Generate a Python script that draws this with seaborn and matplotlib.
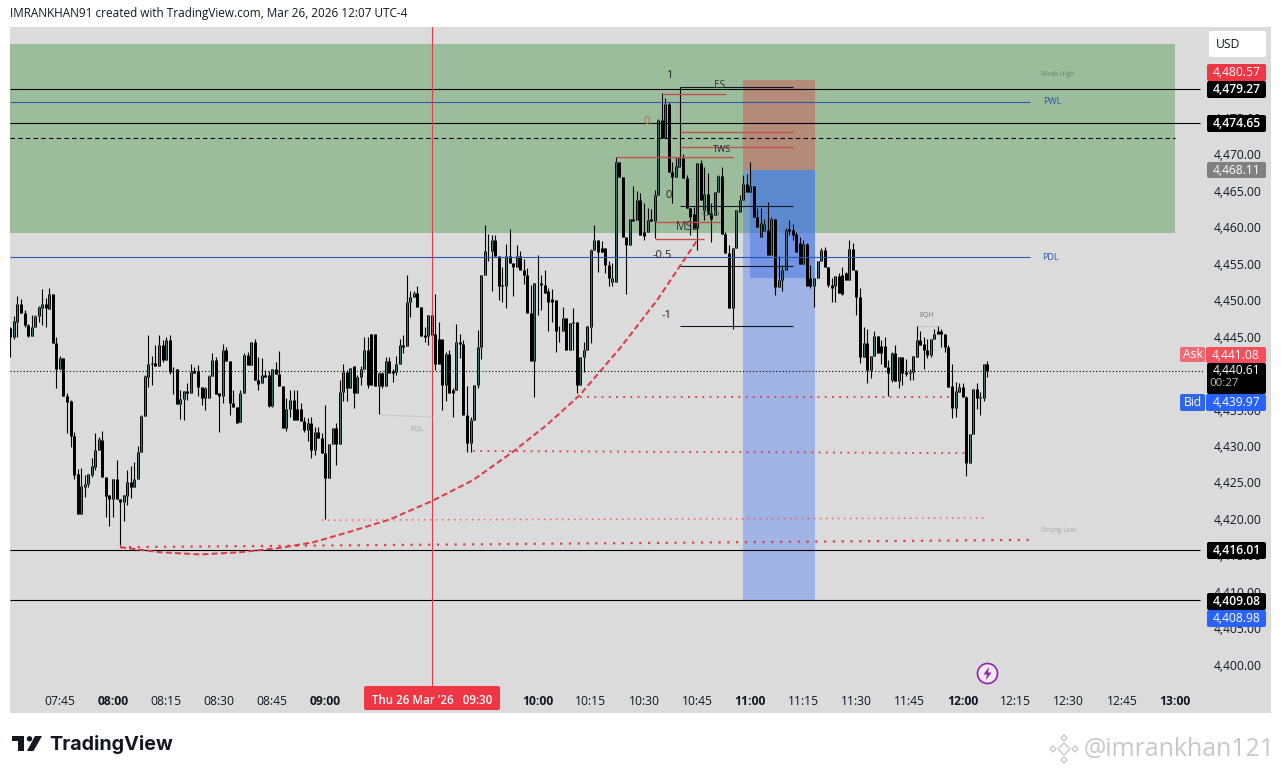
import numpy as np
import pandas as pd
import seaborn as sns
import matplotlib.pyplot as plt
from matplotlib.patches import FancyBboxPatch, Polygon, Circle
from matplotlib.transforms import ScaledTranslation

# 1 minute candles, minutes counted from 08:00
minutes = list(range(-29, 248))

opens = [
    4446.5, 4445.2, 4447.3, 4449.7, 4448.5, 4446.9, 4445.4, 4446.6, 4448.1, 4449.2,
    4449.7, 4449.1, 4451.1, 4444.4, 4440.9, 4442.3, 4437.2, 4436.4, 4431.6, 4426.4,
    4421.0, 4424.7, 4425.0, 4426.3, 4427.4, 4429.8, 4431.1, 4426.0, 4423.5, 4423.0,
    4425.8, 4423.0, 4422.6, 4423.4, 4425.4, 4424.6, 4425.8, 4429.4, 4434.4, 4439.8,
    4441.7, 4441.7, 4441.3, 4444.1, 4442.1, 4444.8, 4440.9, 4440.8, 4436.0, 4436.7,
    4437.8, 4437.6, 4440.6, 4440.6, 4438.4, 4436.8, 4436.8, 4439.9, 4442.1, 4437.5,
    4437.2, 4443.4, 4441.9, 4436.2, 4435.6, 4433.6, 4437.6, 4442.7, 4441.4, 4444.5,
    4439.4, 4438.9, 4440.0, 4440.0, 4435.8, 4440.9, 4440.2, 4438.5, 4432.7, 4435.4,
    4436.6, 4435.3, 4435.3, 4433.7, 4432.5, 4433.4, 4429.8, 4432.2, 4431.4, 4429.3,
    4425.9, 4430.6, 4432.7, 4430.6, 4437.7, 4440.4, 4438.2, 4441.2, 4437.5, 4439.8,
    4440.9, 4443.5, 4445.6, 4445.6, 4438.5, 4440.3, 4438.5, 4441.9, 4440.6, 4440.5,
    4441.5, 4444.1, 4444.0, 4450.0, 4450.7, 4451.3, 4449.3, 4445.5, 4445.4, 4448.3,
    4445.6, 4445.0, 4445.0, 4438.7, 4442.9, 4438.0, 4438.0, 4444.5, 4444.3, 4434.5,
    4430.7, 4433.9, 4438.6, 4443.9, 4453.8, 4457.1, 4457.0, 4458.6, 4456.3, 4452.4,
    4452.2, 4456.4, 4455.4, 4454.9, 4456.3, 4454.4, 4453.8, 4448.6, 4442.0, 4452.7,
    4452.7, 4452.4, 4451.5, 4450.4, 4450.3, 4446.1, 4446.0, 4447.8, 4443.4, 4447.3,
    4447.3, 4438.6, 4442.5, 4443.5, 4446.6, 4457.2, 4458.5, 4457.4, 4457.4, 4455.1,
    4452.8, 4452.8, 4469.3, 4467.2, 4458.9, 4457.9, 4461.5, 4461.3, 4464.1, 4459.7,
    4459.7, 4461.4, 4461.1, 4464.7, 4475.0, 4472.5, 4477.2, 4467.9, 4467.2, 4468.6,
    4469.8, 4467.0, 4462.9, 4462.1, 4460.2, 4469.1, 4462.7, 4464.8, 4462.2, 4462.0,
    4465.1, 4467.3, 4459.4, 4456.7, 4449.2, 4457.4, 4462.4, 4464.0, 4466.3, 4465.1,
    4465.9, 4461.7, 4459.0, 4459.8, 4459.9, 4456.5, 4461.4, 4452.1, 4453.1, 4454.5,
    4460.0, 4459.9, 4459.4, 4458.2, 4455.3, 4458.0, 4453.3, 4452.2, 4453.3, 4455.6,
    4457.2, 4454.9, 4452.4, 4452.2, 4453.6, 4453.7, 4454.0, 4453.1, 4457.3, 4454.5,
    4450.7, 4442.5, 4444.4, 4440.7, 4442.6, 4445.4, 4444.0, 4444.0, 4441.1, 4439.3,
    4443.0, 4439.2, 4442.5, 4440.4, 4440.3, 4440.5, 4442.5, 4444.8, 4444.3, 4443.5,
    4442.8, 4445.0, 4446.0, 4446.0, 4445.7, 4443.8, 4438.5, 4435.5, 4437.7, 4438.4,
    4437.0, 4427.9, 4431.9, 4438.1, 4436.9, 4436.9, 4441.5,
]
closes = [
    4445.2, 4447.5, 4449.7, 4448.5, 4446.9, 4445.4, 4446.6, 4448.1, 4449.3, 4449.7,
    4449.2, 4451.1, 4444.4, 4440.9, 4442.3, 4437.2, 4436.3, 4431.6, 4426.3, 4421.0,
    4424.8, 4425.1, 4426.4, 4427.5, 4429.8, 4431.2, 4426.0, 4423.4, 4423.0, 4425.8,
    4423.0, 4422.6, 4423.5, 4425.4, 4424.6, 4425.8, 4429.4, 4434.4, 4439.9, 4441.6,
    4441.6, 4441.2, 4444.2, 4442.1, 4444.8, 4440.5, 4440.8, 4436.0, 4436.7, 4437.8,
    4437.6, 4440.5, 4440.3, 4438.4, 4436.8, 4438.3, 4439.9, 4442.1, 4437.4, 4437.2,
    4443.4, 4441.9, 4436.2, 4435.6, 4433.5, 4437.6, 4442.7, 4441.4, 4444.5, 4439.4,
    4438.8, 4440.0, 4439.8, 4435.8, 4440.9, 4440.2, 4438.5, 4432.8, 4435.4, 4436.6,
    4433.9, 4433.9, 4433.7, 4432.5, 4433.4, 4429.8, 4432.2, 4431.4, 4429.3, 4425.9,
    4430.6, 4432.7, 4430.6, 4437.7, 4440.4, 4438.2, 4441.0, 4437.5, 4439.8, 4440.9,
    4443.5, 4438.7, 4438.7, 4438.5, 4440.3, 4438.5, 4441.9, 4440.3, 4440.3, 4441.5,
    4444.1, 4443.9, 4450.0, 4450.7, 4451.3, 4449.3, 4445.4, 4445.3, 4448.3, 4445.5,
    4441.5, 4441.5, 4438.7, 4442.9, 4437.6, 4437.6, 4444.5, 4444.3, 4434.5, 4430.7,
    4433.9, 4438.6, 4443.9, 4453.8, 4457.1, 4457.0, 4458.6, 4456.3, 4452.3, 4452.2,
    4456.4, 4455.4, 4454.9, 4456.3, 4454.4, 4453.8, 4448.5, 4442.0, 4452.7, 4452.6,
    4452.4, 4451.3, 4450.1, 4450.1, 4446.0, 4446.0, 4447.8, 4443.4, 4447.2, 4447.1,
    4438.6, 4442.5, 4443.5, 4446.7, 4457.2, 4458.5, 4456.9, 4456.9, 4455.1, 4453.3,
    4453.4, 4469.3, 4467.2, 4458.9, 4457.9, 4461.5, 4461.2, 4464.1, 4459.2, 4459.1,
    4461.3, 4461.1, 4464.7, 4475.0, 4472.5, 4477.2, 4467.9, 4467.2, 4468.7, 4469.8,
    4467.0, 4462.9, 4461.7, 4460.2, 4469.1, 4464.0, 4464.8, 4462.1, 4461.5, 4465.1,
    4467.3, 4459.4, 4456.7, 4449.2, 4457.4, 4462.6, 4464.0, 4466.3, 4465.2, 4465.9,
    4461.7, 4460.4, 4460.9, 4460.8, 4456.5, 4461.4, 4452.1, 4453.1, 4454.5, 4459.9,
    4459.8, 4459.2, 4456.9, 4455.3, 4458.0, 4452.2, 4452.2, 4453.3, 4455.6, 4457.2,
    4454.9, 4452.4, 4452.0, 4453.6, 4451.3, 4451.2, 4453.0, 4457.3, 4454.5, 4450.7,
    4442.5, 4444.4, 4440.7, 4442.6, 4445.4, 4443.1, 4443.1, 4441.1, 4440.3, 4443.0,
    4439.2, 4442.5, 4440.3, 4440.2, 4440.5, 4442.6, 4444.8, 4444.1, 4443.5, 4442.8,
    4445.0, 4445.7, 4445.7, 4445.6, 4443.8, 4438.4, 4435.5, 4437.8, 4438.4, 4437.0,
    4427.9, 4431.9, 4438.1, 4436.9, 4437.0, 4441.5, 4440.61,
]
highs = [
    4446.6, 4448.1, 4450.8, 4450.4, 4448.9, 4447.0, 4448.2, 4448.2, 4449.5, 4451.8,
    4450.6, 4452.0, 4451.1, 4445.2, 4442.6, 4442.3, 4437.5, 4436.6, 4432.2, 4427.1,
    4427.2, 4426.3, 4426.5, 4428.6, 4432.0, 4431.5, 4432.4, 4426.0, 4423.6, 4425.8,
    4428.4, 4423.0, 4423.6, 4427.0, 4427.6, 4428.1, 4430.3, 4434.5, 4440.0, 4445.5,
    4442.6, 4444.1, 4445.5, 4444.8, 4445.2, 4445.5, 4441.1, 4440.8, 4437.9, 4437.8,
    4438.9, 4441.5, 4441.1, 4441.4, 4438.4, 4438.4, 4440.0, 4443.0, 4442.5, 4437.5,
    4444.3, 4443.9, 4441.9, 4437.9, 4435.6, 4437.9, 4443.1, 4443.2, 4444.5, 4445.0,
    4442.5, 4442.3, 4440.7, 4440.6, 4440.9, 4441.8, 4443.3, 4438.5, 4436.8, 4438.0,
    4438.0, 4437.9, 4436.2, 4434.3, 4434.1, 4434.3, 4432.9, 4432.9, 4432.1, 4435.9,
    4430.6, 4432.7, 4433.4, 4439.4, 4441.6, 4440.7, 4441.0, 4441.2, 4440.0, 4441.3,
    4445.3, 4445.3, 4445.6, 4445.6, 4440.5, 4440.5, 4442.5, 4442.5, 4440.9, 4442.6,
    4444.9, 4445.5, 4453.8, 4451.5, 4451.6, 4452.2, 4449.3, 4446.6, 4448.3, 4449.2,
    4451.1, 4447.3, 4445.0, 4443.2, 4443.4, 4438.2, 4447.0, 4445.7, 4444.8, 4438.5,
    4434.3, 4438.7, 4446.2, 4453.8, 4460.6, 4459.4, 4459.2, 4459.2, 4456.3, 4454.9,
    4458.0, 4460.0, 4455.4, 4457.9, 4457.0, 4456.0, 4454.7, 4452.4, 4452.7, 4456.5,
    4453.8, 4454.5, 4451.9, 4451.8, 4450.3, 4446.7, 4449.3, 4447.8, 4447.2, 4449.2,
    4447.3, 4442.5, 4444.6, 4446.8, 4457.3, 4460.6, 4458.5, 4458.4, 4457.4, 4455.6,
    4455.4, 4469.9, 4469.3, 4467.2, 4458.9, 4461.5, 4466.0, 4465.3, 4465.0, 4463.6,
    4463.0, 4462.8, 4465.4, 4475.2, 4478.7, 4478.0, 4477.5, 4469.3, 4470.0, 4469.8,
    4470.4, 4467.5, 4462.9, 4463.1, 4469.1, 4469.5, 4468.6, 4467.7, 4463.6, 4465.1,
    4467.5, 4468.5, 4459.7, 4457.9, 4457.4, 4462.7, 4464.7, 4467.5, 4467.6, 4469.3,
    4465.9, 4463.0, 4462.9, 4461.5, 4463.7, 4461.7, 4461.4, 4456.3, 4455.1, 4460.2,
    4461.3, 4460.8, 4459.7, 4459.0, 4458.5, 4458.2, 4455.1, 4453.4, 4455.6, 4457.4,
    4457.6, 4454.9, 4453.4, 4453.6, 4454.0, 4454.9, 4454.2, 4458.6, 4458.1, 4454.5,
    4451.9, 4446.6, 4446.4, 4442.6, 4446.0, 4445.4, 4444.8, 4445.2, 4442.1, 4443.2,
    4444.1, 4442.5, 4442.5, 4442.2, 4440.9, 4442.6, 4446.8, 4446.0, 4445.3, 4444.9,
    4445.0, 4446.4, 4446.8, 4446.4, 4445.7, 4444.1, 4441.5, 4439.0, 4438.9, 4438.9,
    4437.1, 4431.9, 4438.1, 4438.9, 4437.7, 4441.5, 4442.0,
]
lows = [
    4442.5, 4445.0, 4445.2, 4448.5, 4446.6, 4445.2, 4445.4, 4446.6, 4447.3, 4446.9,
    4446.6, 4449.1, 4444.4, 4438.3, 4440.9, 4437.2, 4432.1, 4430.1, 4425.8, 4421.0,
    4421.0, 4423.3, 4424.6, 4426.0, 4427.0, 4429.8, 4426.0, 4420.6, 4419.3, 4420.6,
    4423.0, 4416.7, 4420.0, 4422.2, 4423.1, 4424.6, 4425.8, 4429.4, 4434.4, 4438.4,
    4438.6, 4441.2, 4441.3, 4441.8, 4442.1, 4440.1, 4437.4, 4436.0, 4434.0, 4433.8,
    4436.6, 4437.6, 4440.3, 4437.1, 4435.9, 4435.2, 4436.8, 4439.9, 4437.4, 4432.2,
    4436.2, 4441.9, 4434.5, 4435.6, 4433.4, 4433.6, 4437.6, 4441.4, 4441.4, 4439.4,
    4438.0, 4438.9, 4439.8, 4435.7, 4435.7, 4440.2, 4438.5, 4432.8, 4432.4, 4434.3,
    4433.9, 4433.9, 4433.7, 4432.2, 4431.0, 4428.6, 4429.0, 4431.4, 4429.3, 4420.3,
    4425.9, 4430.6, 4427.7, 4430.6, 4436.4, 4436.4, 4438.2, 4435.5, 4437.5, 4438.7,
    4440.9, 4438.2, 4438.7, 4438.5, 4434.7, 4438.2, 4438.5, 4440.3, 4439.0, 4440.0,
    4441.5, 4443.1, 4444.0, 4448.0, 4450.7, 4449.3, 4445.4, 4444.5, 4444.1, 4445.5,
    4440.7, 4441.5, 4435.2, 4436.4, 4437.6, 4434.3, 4438.0, 4442.3, 4434.5, 4429.5,
    4429.5, 4433.9, 4438.2, 4442.2, 4453.8, 4455.6, 4451.5, 4456.3, 4450.3, 4450.1,
    4449.2, 4455.4, 4450.8, 4454.9, 4454.4, 4452.5, 4448.5, 4442.0, 4437.0, 4448.3,
    4448.9, 4451.3, 4446.0, 4447.3, 4443.2, 4444.6, 4446.0, 4443.4, 4443.4, 4443.4,
    4437.5, 4438.6, 4440.5, 4443.5, 4444.4, 4457.2, 4454.2, 4456.9, 4454.0, 4452.2,
    4452.2, 4452.8, 4467.2, 4458.9, 4451.2, 4457.9, 4461.2, 4461.3, 4459.2, 4458.5,
    4459.7, 4461.1, 4458.8, 4464.7, 4472.5, 4472.5, 4467.9, 4463.6, 4467.2, 4468.6,
    4467.0, 4462.9, 4459.2, 4460.2, 4457.2, 4464.0, 4461.3, 4462.1, 4458.3, 4462.0,
    4465.1, 4459.4, 4456.7, 4449.2, 4446.3, 4457.4, 4462.4, 4464.0, 4465.2, 4465.1,
    4461.7, 4460.4, 4459.0, 4459.8, 4456.5, 4456.5, 4451.0, 4452.1, 4451.6, 4454.5,
    4459.2, 4458.5, 4456.9, 4455.3, 4455.3, 4452.2, 4452.0, 4449.3, 4453.3, 4455.6,
    4454.9, 4452.1, 4450.1, 4450.1, 4451.3, 4451.0, 4453.0, 4453.1, 4454.5, 4448.3,
    4441.7, 4442.5, 4438.9, 4439.6, 4442.6, 4443.1, 4441.6, 4441.1, 4437.1, 4439.1,
    4439.2, 4438.2, 4438.7, 4439.9, 4439.3, 4439.3, 4442.5, 4444.1, 4440.9, 4442.3,
    4442.5, 4445.0, 4445.7, 4443.8, 4443.2, 4438.4, 4434.1, 4434.3, 4437.7, 4437.0,
    4426.2, 4427.9, 4431.9, 4435.3, 4434.5, 4436.5, 4439.8,
]

# drawn levels and zones
black_levels = [4479.27, 4474.65, 4416.01, 4409.08]
dashed_level = 4472.55
last_price = 4440.61
pwl_level = 4477.49
pdl_level = 4456.15
zone_prices = [4459.51, 4485.45]
stop_prices = [4468.11, 4480.57]
target_prices = [4408.98, 4468.11]
inner_prices = [4453.33, 4468.11]
fib_prices = [4479.55, 4463.15, 4454.98, 4446.75]
red_ticks = [(4478.54, 155.4, 173.2), (4473.33, 160.2, 192.1), (4471.35, 160.2, 192.1),
             (4469.9, 142.1, 175.1), (4460.98, 153.1, 171.5), (4458.73, 153.1, 167)]

# swing curve and liquidity lines
curve_minutes = [2, 13.3, 24.6, 35.9, 47.2, 56.5, 66.1, 78.2, 90.4, 101.7, 113, 122.6, 131.9, 143.2, 153.7, 165]
curve_prices = [4416.4, 4415.7, 4415.4, 4415.7, 4416.3, 4417.06, 4418.4, 4420.2,
                4422.8, 4425.6, 4429.5, 4433.2, 4437.3, 4443.7, 4450.3, 4458.5]
liquidity_minutes = [[2, 260.5], [59, 246], [101.7, 240.7], [132, 236.4]]
liquidity_prices = [[4416.4, 4417.4], [4420.1, 4420.4], [4429.6, 4429.3], [4437.0, 4437.0]]

price_ticks = list(range(4400, 4485, 5))
time_ticks = [-15, 0, 15, 30, 45, 60, 120, 135, 150, 165, 180, 195, 210, 225, 240, 255, 270, 285, 300]
time_labels = ['07:45', '08:00', '08:15', '08:30', '08:45', '09:00', '10:00', '10:15', '10:30',
               '10:45', '11:00', '11:15', '11:30', '11:45', '12:00', '12:15', '12:30', '12:45', '13:00']

sns.set_theme(style='white')
plt.rcParams['font.family'] = ['Open Sans', 'DejaVu Sans']
PX = 0.72

fig = plt.figure(figsize=(12.81, 7.74), dpi=100, facecolor='white')
ax = fig.add_axes([10 / 1281, 1 - 713 / 774, 1261 / 1281, 686 / 774], facecolor='#dbdbdb')

# zones under the candles
ax.fill_between([-29.1, 300], *zone_prices, color='#9bbd9b', lw=0, zorder=1)
ax.fill_between([178, 198.3], *stop_prices, color=(0.886, 0.184, 0.216, 0.35), lw=0, zorder=2)
ax.fill_between([178, 198.3], *target_prices, color=(0.278, 0.475, 0.965, 0.4), lw=0, zorder=2)
ax.fill_between([180, 198.3], *inner_prices, color=(0.2, 0.4, 0.9, 0.4), lw=0, zorder=2)

# candles
candles = pd.DataFrame({'minute': minutes, 'open': opens, 'high': highs, 'low': lows, 'close': closes})
candles['top'] = candles[['open', 'close']].max(axis=1)
candles['bottom'] = candles[['open', 'close']].min(axis=1)
wicks = candles.melt(id_vars='minute', value_vars=['low', 'high'], value_name='price')
bodies = candles.melt(id_vars='minute', value_vars=['bottom', 'top'], value_name='price')
rising = candles.loc[candles['close'] > candles['open'], 'minute']
sns.lineplot(data=wicks, x='minute', y='price', units='minute', estimator=None, sort=False,
             color='black', lw=1.1 * PX, ax=ax, zorder=4, solid_capstyle='butt')
sns.lineplot(data=bodies, x='minute', y='price', units='minute', estimator=None, sort=False,
             color='black', lw=3 * PX, ax=ax, zorder=5, solid_capstyle='butt')
sns.lineplot(data=bodies[bodies['minute'].isin(rising)], x='minute', y='price', units='minute',
             estimator=None, sort=False, color='#3f6f68', lw=1.2 * PX, ax=ax, zorder=6,
             solid_capstyle='butt')

# levels
ax.hlines(black_levels, -29.1, 307, color='black', lw=1.1 * PX, zorder=7)
ax.hlines(dashed_level, -29.1, 300, color='black', lw=1.1 * PX, ls=(0, (4, 3)), zorder=7)
ax.hlines(last_price, -29.1, 308, color='black', lw=1.1 * PX, ls=(0, (1, 2)), zorder=3)
ax.hlines([pwl_level, pdl_level], -29.1, 259, color='#2c57b8', lw=1.1 * PX, zorder=7)
ax.axvline(90, ymin=26 / 686, color='#d9414a', lw=1.1 * PX, zorder=7)
ax.vlines(160.2, 4469.6, fib_prices[0], color='black', lw=1.1 * PX, zorder=7)
ax.hlines(fib_prices, 160.2, 192.1, color='#101828', lw=1.1 * PX, zorder=7)
for price, start, stop in red_ticks:
    ax.hlines(price, start, stop, color='#c4504e', lw=1.4 * PX, zorder=7)

# swing curve and liquidity
curve = pd.DataFrame({'minute': curve_minutes, 'price': curve_prices})
sns.lineplot(data=curve, x='minute', y='price', color='#dc3c44', lw=2.0 * PX, ls=(0, (3, 1.6)),
             ax=ax, zorder=8)
line_widths = [2.2, 1.5, 1.8, 1.8]
line_colors = ['#dc3c44', '#d9666f', '#dc3c44', '#dc3c44']
for xs, ys, width, colour in zip(liquidity_minutes, liquidity_prices, line_widths, line_colors):
    sns.lineplot(x=xs, y=ys, color=colour, lw=width * PX, ls=(0, (1, 3)), ax=ax, zorder=8)

ax.set_xlim(-29.1, 327.1)
ax.set_ylim(4393.64, 4487.78)
ax.set_xlabel('')
ax.set_ylabel('')
ax.grid(False)
for side in ax.spines.values():
    side.set_visible(False)

ax.yaxis.tick_right()
ax.set_yticks(price_ticks, [f'{p:,.2f}' for p in price_ticks])
ax.tick_params(axis='y', length=0, pad=-41, labelsize=8.7, labelcolor='#131722')
ax.set_xticks(time_ticks, time_labels)
ax.tick_params(axis='x', length=0, pad=-13, labelsize=8.7, labelcolor='#131722')
for tick, label in zip(ax.get_xticklabels(), time_labels):
    if label.endswith(':00'):
        tick.set_fontweight('bold')
lift = ScaledTranslation(0, 1.5 / 72, fig.dpi_scale_trans)
for tick in ax.get_yticklabels():
    tick.set_transform(tick.get_transform() + lift)

# badges, labels and logos in picture pixels
deco = fig.add_axes([0, 0, 1, 1], facecolor='none')
deco.set_xlim(0, 1281)
deco.set_ylim(774, 0)
deco.axis('off')


def badge(x0, x1, y0, y1, colour, text=None, text_colour='white', size=8.7, weight='normal'):
    deco.add_patch(FancyBboxPatch((x0, y0), x1 - x0, y1 - y0, boxstyle='round,pad=0,rounding_size=2',
                                  fc=colour, ec='none', zorder=10))
    if text:
        deco.text((x0 + x1) / 2, (y0 + y1) / 2 + 0.3, text, color=text_colour, ha='center', va='center',
                  fontsize=size, fontweight=weight, zorder=11)


badge(1209, 1266, 31, 57, 'white')
deco.text(1228, 44.5, 'USD', color='#131722', ha='center', va='center', fontsize=8.7, zorder=11)
badge(1207, 1266, 64, 81, '#ee3645', '4,480.57')
badge(1207, 1266, 81, 98, 'black', '4,479.27', weight='semibold')
badge(1207, 1266, 115, 132, 'black', '4,474.65', weight='semibold')
badge(1207, 1266, 162, 178, '#808080', '4,468.11')
badge(1180, 1205, 347, 362, '#ee6a75', 'Ask')
badge(1206, 1266, 347, 363, '#f2505c', '4,441.08')
badge(1207, 1266, 363, 394, 'black')
deco.text(1236.5, 371, '4,440.61', color='white', ha='center', va='center', fontsize=8.7, zorder=11)
deco.text(1224, 384, '00:27', color='#c0c0c0', ha='center', va='center', fontsize=8.2, zorder=11)
badge(1180, 1205, 394, 411, '#2f66e6', 'Bid')
badge(1206, 1266, 394, 411, '#2962ff', '4,439.97')
badge(1207, 1266, 542, 559, 'black', '4,416.01', weight='semibold')
badge(1207, 1266, 593, 610, 'black', '4,409.08', weight='semibold')
badge(1207, 1266, 610, 627, '#2962ff', '4,408.98')
badge(364, 500, 686, 710, '#ee3645')
deco.text(432, 700.5, "Thu 26 Mar '26   09:30", color='white', ha='center', va='center',
          fontsize=8.3, fontweight='semibold', zorder=11)

notes = [
    (669, 75, '1', '#222222', 8),
    (669, 195, '0', '#222222', 8),
    (648, 121, '0.', '#c9605a', 8),
    (662, 255, '-0.5', '#222222', 8),
    (667, 315, '-1', '#222222', 8),
    (688, 227, 'MSS', '#333333', 8.5),
    (722, 150, 'TWS', '#222222', 6.5),
    (719, 86, 'ES', '#333333', 7),
    (711, 214, 'CISD', '#3a5a48', 6),
    (1052, 101, 'PWL', '#2c57b8', 6.5),
    (1050, 257, 'PDL', '#2c57b8', 6.5),
    (1058, 75, 'Weak High', '#6f7f6f', 4.8),
    (1058, 530, 'Strong Low', '#a8a8a8', 4.8),
    (417, 430, 'EQL', '#a8a8a8', 5),
    (927, 315, 'EQH', '#777777', 5),
]
for x, y, text, colour, size in notes:
    deco.text(x, y, text, color=colour, fontsize=size, ha='center', va='center', zorder=9)

deco.plot([380, 432], [415, 417], color='#c8c8c8', lw=0.7, zorder=9)
deco.plot([918, 942], [326, 326], color='#909090', lw=0.6, ls=':', zorder=9)

deco.text(10, 14, 'IMRANKHAN91 created with TradingView.com, Mar 26, 2026 12:07 UTC-4',
          color='#131722', fontsize=8.5, va='center')

# TradingView logo
deco.add_patch(Polygon([(12, 736), (24, 736), (24, 751), (18, 751), (18, 741), (12, 741)], fc='#131722', ec='none'))
deco.add_patch(Circle((29.5, 738.8), 2.7, fc='#131722', ec='none'))
deco.add_patch(Polygon([(35, 736), (42, 736), (33.5, 751), (27, 751)], fc='#131722', ec='none'))
deco.text(49, 744, 'TradingView', family='Inter', fontweight='bold', fontsize=14.2, color='#131722', va='center')

# watermark
deco.text(1084, 749, '@imrankhan121', color='#c8c8c8', fontsize=17.9, va='center', family='Open Sans')
for dx, dy, half in [(1064, 749, 6), (1053, 749, 3), (1075, 749, 3), (1064, 738, 3), (1064, 760, 3)]:
    deco.add_patch(Polygon([(dx - half, dy), (dx, dy - half), (dx + half, dy), (dx, dy + half)],
                           fc='none', ec='#c8c8c8', lw=1))

# lightning mark
deco.add_patch(Circle((987.5, 673.5), 10, fc='#f3e8f5', ec='#8e24aa', lw=1.2, zorder=9))
deco.add_patch(Polygon([(989, 667), (983.5, 674.5), (987, 674.5), (986, 680), (991.5, 672.5), (988, 672.5)],
                       fc='#8e24aa', ec='none', zorder=10))

fig.savefig('out.png', dpi=100)
